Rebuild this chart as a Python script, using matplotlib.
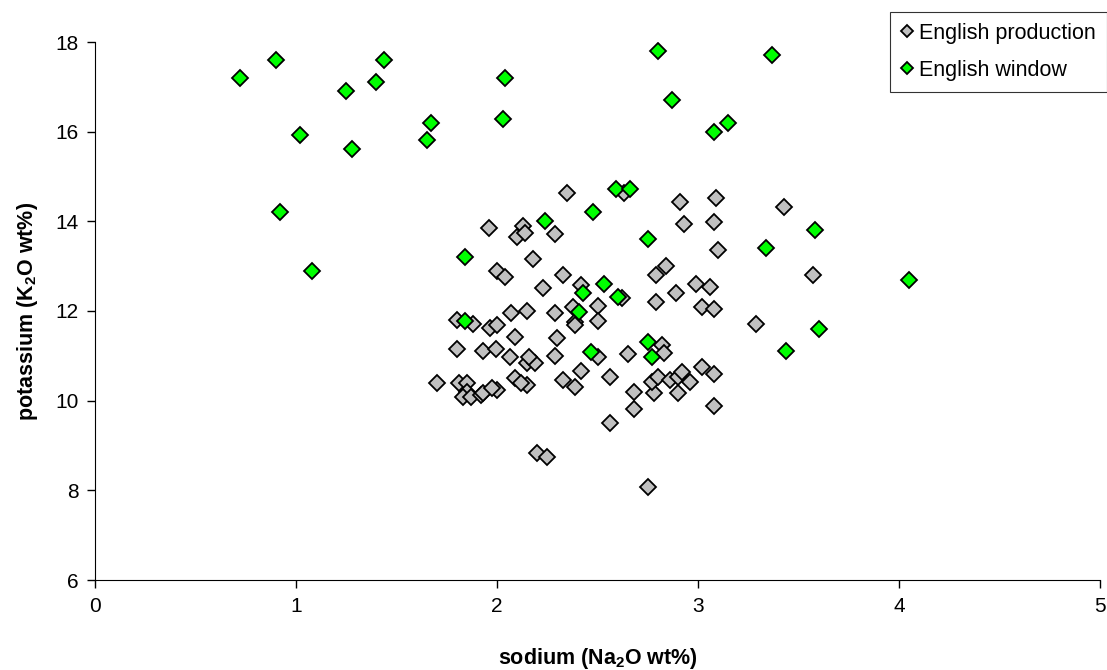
import matplotlib.pyplot as plt

plt.rcParams['font.family'] = ['Liberation Sans', 'DejaVu Sans']
plt.rcParams['mathtext.fontset'] = 'custom'
plt.rcParams['mathtext.rm'] = 'Liberation Sans'
plt.rcParams['mathtext.bf'] = 'Liberation Sans:bold'

# English production glass: Na2O / K2O (wt%)
prod_na = [2.35, 2.63, 2.91, 3.09, 3.43, 1.96, 2.13, 2.10, 2.14, 2.29,
           2.93, 3.08, 3.10, 2.18, 2.84, 2.79, 2.00, 2.04, 2.33, 3.57,
           2.23, 2.42, 2.99, 3.06, 2.89, 2.79, 2.62, 2.50, 3.02, 3.08,
           2.07, 2.15, 2.29, 2.38, 2.39, 1.80, 1.88, 1.965, 2.00, 2.50,
           3.29, 2.09, 2.30, 2.82, 2.83, 1.80, 1.93, 1.995, 2.065, 2.15,
           2.19, 2.16, 2.29, 2.50, 2.65, 2.42, 2.33, 2.39, 2.09, 2.15,
           2.12, 1.70, 1.81, 1.85, 1.85, 1.83, 1.87, 1.92, 1.93, 2.00,
           1.975, 2.56, 2.68, 2.78, 2.77, 2.80, 2.86, 2.90, 2.92, 2.90,
           2.96, 3.02, 3.08, 3.08, 2.68, 2.56, 2.20, 2.25, 2.75, 2.39]
prod_k = [14.63, 14.63, 14.43, 14.52, 14.32, 13.85, 13.90, 13.65, 13.74, 13.72,
          13.94, 13.99, 13.36, 13.16, 13.00, 12.80, 12.89, 12.76, 12.80, 12.80,
          12.51, 12.58, 12.60, 12.54, 12.40, 12.20, 12.28, 12.12, 12.09, 12.05,
          11.96, 12.00, 11.96, 12.09, 11.76, 11.80, 11.71, 11.62, 11.69, 11.78,
          11.70, 11.42, 11.40, 11.24, 11.06, 11.15, 11.11, 11.15, 10.97, 10.84,
          10.84, 10.97, 11.00, 10.97, 11.04, 10.66, 10.46, 10.30, 10.50, 10.35,
          10.39, 10.39, 10.39, 10.39, 10.19, 10.08, 10.08, 10.13, 10.17, 10.24,
          10.28, 10.53, 10.19, 10.17, 10.42, 10.53, 10.46, 10.53, 10.64, 10.17,
          10.42, 10.75, 10.60, 9.88, 9.81, 9.50, 8.83, 8.75, 8.07, 11.68]

# English window glass
win_na = [0.72, 0.90, 1.02, 0.92, 1.08, 1.25, 1.28, 1.40, 1.44, 1.65,
          1.67, 2.04, 2.03, 2.80, 2.87, 3.08, 3.15, 3.37, 2.59, 2.66,
          2.24, 2.48, 2.75, 3.34, 3.58, 1.84, 2.53, 2.43, 2.60, 2.41,
          1.84, 2.75, 2.77, 2.47, 3.44, 3.60, 4.05]
win_k = [17.20, 17.60, 15.93, 14.21, 12.89, 16.90, 15.61, 17.10, 17.60, 15.81,
         16.19, 17.20, 16.28, 17.80, 16.70, 16.00, 16.19, 17.70, 14.72, 14.72,
         14.00, 14.20, 13.61, 13.40, 13.80, 13.20, 12.60, 12.40, 12.31, 11.98,
         11.78, 11.31, 10.97, 11.09, 11.10, 11.60, 12.70]

fig = plt.figure(figsize=(11.07, 6.70), dpi=100)
ax = fig.add_axes([95 / 1107, 1 - 580 / 670, 1005 / 1107, 538 / 670])

ax.plot(prod_na, prod_k, linestyle='none', marker='D', markersize=8.2,
        markerfacecolor='#C0C0C0', markeredgecolor='black', markeredgewidth=1.3,
        label='English production')
ax.plot(win_na, win_k, linestyle='none', marker='D', markersize=8.2,
        markerfacecolor='#00FF00', markeredgecolor='black', markeredgewidth=1.3,
        label='English window')

ax.set_xlim(0, 5)
ax.set_ylim(6, 18)
ax.set_xticks(range(0, 6))
ax.set_yticks(range(6, 19, 2))
ax.spines['top'].set_visible(False)
ax.spines['right'].set_visible(False)
ax.tick_params(direction='out', length=6, width=1, labelsize=15, pad=6)

ax.set_xlabel('sodium (Na$_\\mathbf{2}$O wt%)', fontsize=15.5, fontweight='bold', labelpad=22)
ax.set_ylabel('potassium (K$_\\mathbf{2}$O wt%)', fontsize=15.5, fontweight='bold', labelpad=11)

leg = ax.legend(loc='upper right', bbox_to_anchor=(1.0, 1 - 12 / 670),
                bbox_transform=fig.transFigure, fontsize=15.5, frameon=True,
                fancybox=False, markerscale=0.8, handlelength=0.5,
                handletextpad=0.35, labelspacing=0.75, borderpad=0.5,
                borderaxespad=0)
leg.get_frame().set_edgecolor('black')
leg.get_frame().set_linewidth(0.8)

fig.savefig('out.png', dpi=100)
